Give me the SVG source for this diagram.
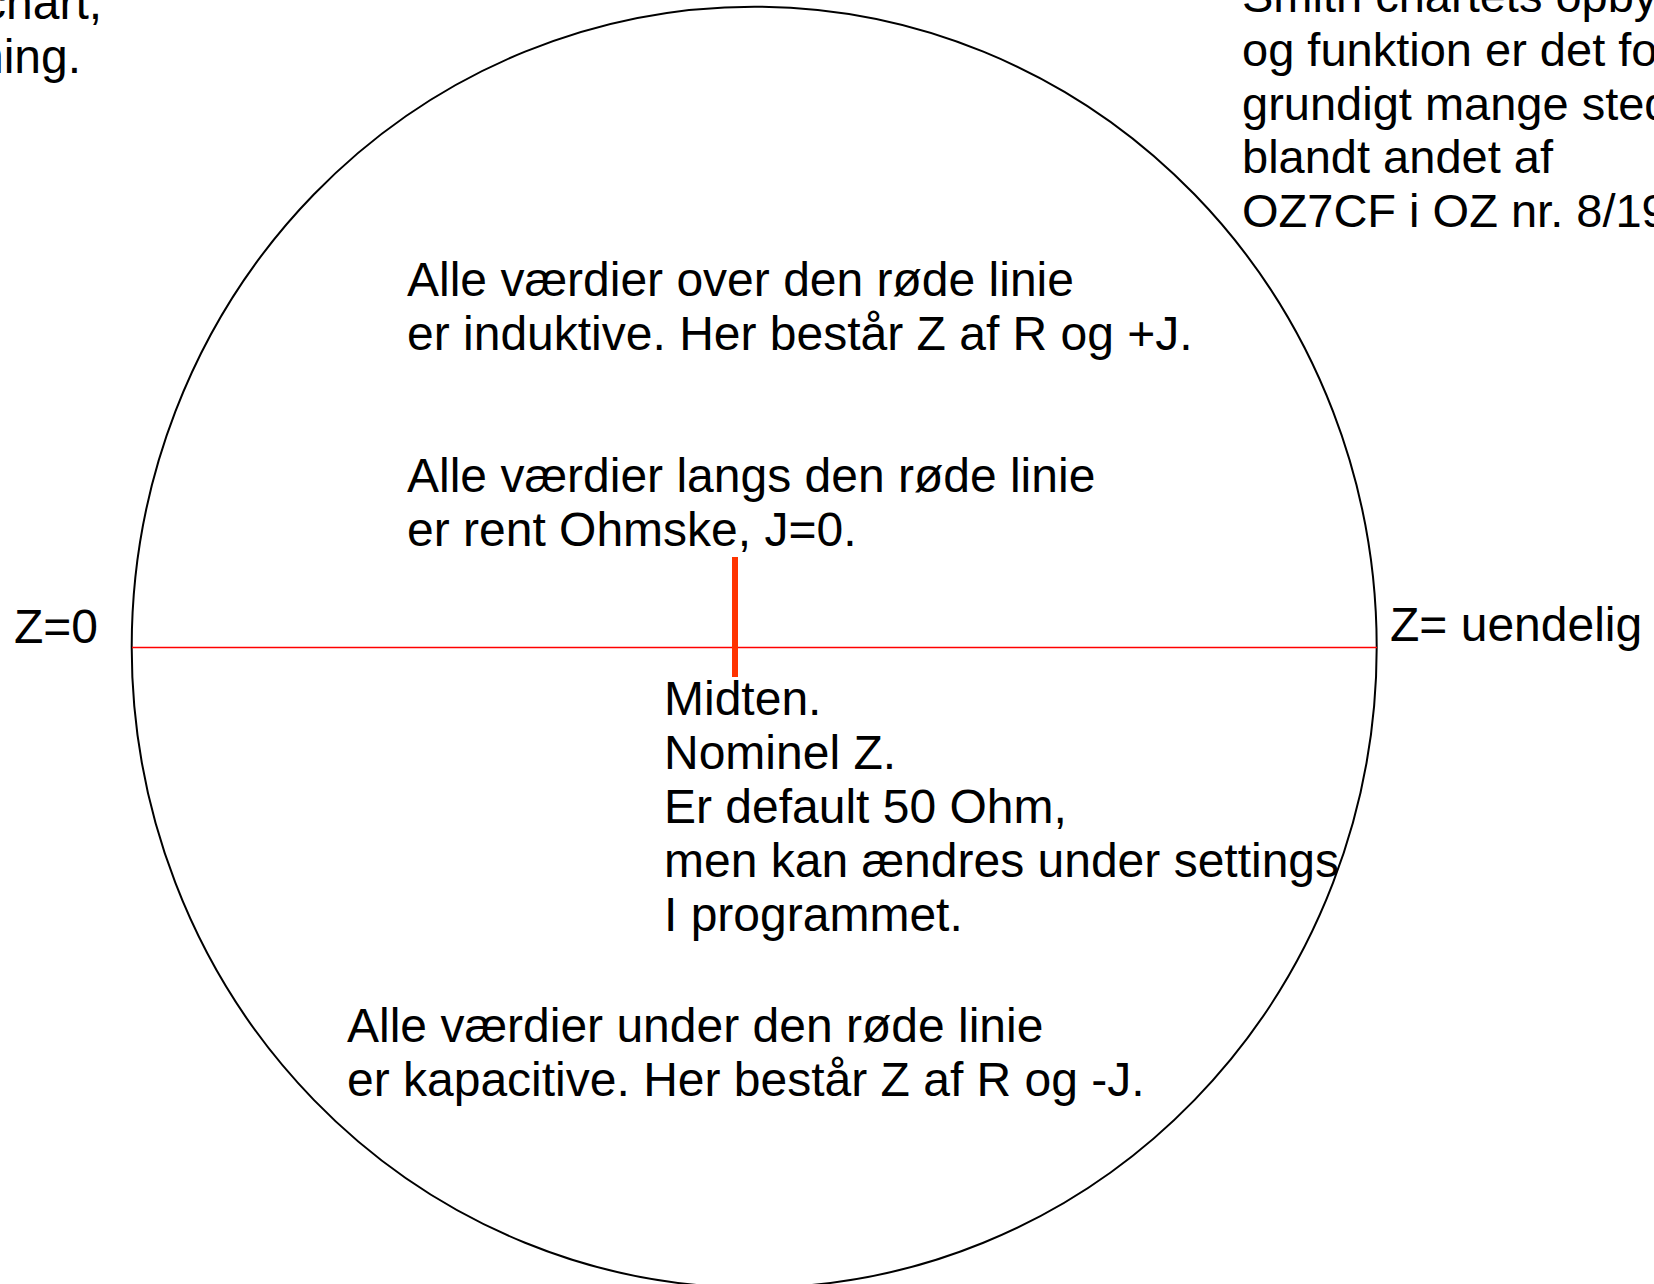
<svg xmlns="http://www.w3.org/2000/svg" width="1654" height="1284" viewBox="0 0 1654 1284">
<style>
.t{font-family:"Liberation Sans",Arial,sans-serif;font-size:48px;fill:#000}
.s{font-size:47px}
</style>
<rect x="0" y="0" width="1654" height="1284" fill="#fff"/>
<g id="chart">
<ellipse cx="754.2" cy="647.2" rx="622.5" ry="640.5" fill="none" stroke="#000" stroke-width="2"/>
</g>
<g id="connectors">
<line x1="132" y1="647.5" x2="1377" y2="647.5" stroke="#ff0000" stroke-width="1.5"/>
<line x1="735" y1="557" x2="735" y2="677" stroke="#ff3300" stroke-width="6"/>
</g>
<g id="topleft">
<text class="t" x="-18" y="19">chart,</text>
<text class="t" x="-23" y="73">ning.</text>
</g>
<g id="topright">
<text class="t s" x="1242" y="12">Smith chartets opby</text>
<text class="t s" x="1242" y="66">og funktion er det fo</text>
<text class="t s" x="1242" y="120">grundigt mange sted</text>
<text class="t s" x="1242" y="173">blandt andet af</text>
<text class="t s" x="1242" y="227">OZ7CF i OZ nr. 8/19</text>
</g>
<g id="induktive">
<text class="t" x="407" y="296">Alle værdier over den røde linie</text>
<text class="t" x="407" y="350">er induktive. Her består Z af R og +J.</text>
</g>
<g id="ohmske">
<text class="t" x="407" y="492">Alle værdier langs den røde linie</text>
<text class="t" x="407" y="546">er rent Ohmske, J=0.</text>
</g>
<g id="z0">
<text class="t" x="14" y="643">Z=0</text>
</g>
<g id="zinf">
<text class="t" x="1390" y="641">Z= uendelig</text>
</g>
<g id="midten">
<text class="t" x="664" y="715">Midten.</text>
<text class="t" x="664" y="769">Nominel Z.</text>
<text class="t" x="664" y="823">Er default 50 Ohm,</text>
<text class="t" x="664" y="877">men kan ændres under settings</text>
<text class="t" x="664" y="931">I programmet.</text>
</g>
<g id="kapacitive">
<text class="t" x="347" y="1042">Alle værdier under den røde linie</text>
<text class="t" x="347" y="1096">er kapacitive. Her består Z af R og -J.</text>
</g>
</svg>
